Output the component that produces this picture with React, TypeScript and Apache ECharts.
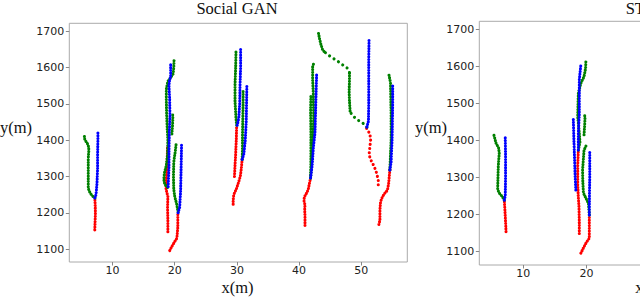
import React, { useEffect, useRef } from "react";
import * as echarts from "echarts";

type Traj = [number, number][];

// ---------- panel titles / axis ticks ----------
const panelTitles = ["Social GAN", "STGAT"];
const xTicks = [10, 20, 30, 40, 50];
const xTicksRightVisible = [10, 20];
const yTicks = [1100, 1200, 1300, 1400, 1500, 1600, 1700];

// ---------- left panel (Social GAN) ----------
const leftObserved: Traj[] = [
  [[7.15, 1153], [7.2, 1175], [7.25, 1200], [7.2, 1225], [7.15, 1241]],
  [[18.9, 1148], [18.9, 1180], [18.85, 1215], [18.9, 1245], [18.6, 1265], [18.65, 1290], [18.75, 1320], [18.8, 1350], [18.85, 1383]],
  [[19.2, 1096], [19.5, 1106], [19.9, 1118], [20.35, 1130], [20.5, 1160], [20.5, 1200]],
  [[29.95, 1434], [29.9, 1400], [29.8, 1360], [29.7, 1330], [29.6, 1296]],
  [[30.85, 1347], [30.7, 1320], [30.55, 1300], [30.2, 1280], [29.9, 1265], [29.5, 1250], [29.4, 1235], [29.4, 1218]],
  [[41.85, 1296], [41.63, 1278], [41.47, 1264], [41.2, 1254], [40.9, 1245], [40.8, 1238], [40.8, 1231], [40.95, 1222], [40.9, 1208], [40.95, 1190], [40.95, 1158]],
  [[54.6, 1318], [54.5, 1300], [54.4, 1280], [54.2, 1262], [53.8, 1254], [53.4, 1244], [53.1, 1230], [53.0, 1208], [53.0, 1180], [52.75, 1162]],
];
const leftObservedSparse: Traj[] = [
  [[50.86, 1432], [51.39, 1417], [51.5, 1400], [51.39, 1382], [51.28, 1364], [51.39, 1350], [51.83, 1336], [52.2, 1322], [52.47, 1309], [52.73, 1290], [52.73, 1267]],
];
const leftTruth: Traj[] = [
  [[7.15, 1241], [7.35, 1250], [7.5, 1280], [7.6, 1320], [7.6, 1360], [7.65, 1400], [7.65, 1420]],
  [[18.95, 1272], [19.08, 1327], [19.08, 1373], [19.13, 1419], [19.24, 1464], [19.19, 1510], [19.08, 1547], [19.13, 1561], [19.35, 1574], [19.35, 1613]],
  [[20.55, 1200], [20.8, 1215], [20.95, 1260], [21.0, 1300], [21.05, 1340], [21.1, 1388]],
  [[30.05, 1441], [30.3, 1460], [30.45, 1500], [30.5, 1550], [30.6, 1600], [30.6, 1655]],
  [[30.85, 1347], [31.1, 1360], [31.35, 1400], [31.5, 1450], [31.55, 1500], [31.6, 1549]],
  [[41.85, 1296], [42.1, 1330], [42.3, 1380], [42.55, 1419], [42.7, 1510], [42.82, 1582]],
  [[50.9, 1436], [51.15, 1452], [51.2, 1500], [51.2, 1560], [51.2, 1620], [51.25, 1680]],
  [[54.6, 1318], [54.8, 1340], [54.95, 1400], [55.0, 1450], [55.05, 1500], [55.05, 1549]],
];
const leftPredicted: Traj[] = [
  [[7.18, 1241], [6.9, 1244], [6.4, 1254], [6.1, 1267], [6.1, 1304], [6.1, 1350], [6.2, 1373], [6.1, 1386], [5.85, 1394], [5.55, 1400], [5.45, 1414]],
  [[18.85, 1270], [18.4, 1278], [18.25, 1292], [18.35, 1310], [18.65, 1330], [18.85, 1360], [18.9, 1400], [18.8, 1430], [18.7, 1470], [18.65, 1510], [18.65, 1540], [18.9, 1562], [19.35, 1572], [19.75, 1582], [19.85, 1600], [19.9, 1621]],
  [[20.55, 1202], [20.3, 1225], [20.0, 1245], [19.85, 1265], [19.8, 1300], [19.85, 1340], [20.1, 1370], [20.25, 1392]],
  [[19.55, 1417], [19.65, 1440], [19.7, 1460], [19.65, 1476]],
  [[29.96, 1441], [29.85, 1460], [29.7, 1506], [29.7, 1552], [29.8, 1598], [29.85, 1643]],
  [[30.85, 1347], [30.9, 1380], [30.9, 1415], [30.95, 1460], [31.0, 1500], [31.0, 1540]],
  [[41.85, 1296], [41.9, 1340], [41.9, 1380], [41.9, 1430], [41.85, 1480], [41.9, 1524]],
  [[41.85, 1296], [42.05, 1340], [42.2, 1400], [42.35, 1460], [42.28, 1529], [42.18, 1565], [42.18, 1602], [42.39, 1613]],
  [[48.2, 1480], [48.1, 1507], [48.05, 1535], [48.1, 1563], [48.1, 1586]],
  [[44.0, 1644], [43.75, 1650], [43.5, 1664], [43.3, 1678], [43.1, 1696]],
  [[54.6, 1318], [54.8, 1400], [54.8, 1470], [54.75, 1512], [54.7, 1558], [54.4, 1584]],
];
const leftPredictedSparse: Traj[] = [
  [[50.9, 1436], [50.6, 1443], [50.1, 1448], [49.3, 1457], [48.5, 1469], [48.2, 1480]],
  [[48.1, 1586], [47.85, 1597], [47.1, 1606], [46.3, 1616], [45.5, 1625], [44.7, 1634], [44.0, 1644]],
];

// ---------- right panel (STGAT), only its left part is in view ----------
const rightObserved: Traj[] = [
  [[7.27, 1154], [7.2, 1180], [7.1, 1210], [7.0, 1239]],
  [[18.85, 1149], [18.85, 1180], [18.8, 1220], [18.7, 1245], [18.6, 1280], [18.6, 1330], [18.7, 1374]],
  [[19.1, 1096], [19.5, 1110], [19.9, 1123], [20.43, 1136], [20.43, 1170], [20.43, 1199]],
];
const rightTruth: Traj[] = [
  [[7.0, 1239], [7.15, 1250], [7.2, 1300], [7.2, 1360], [7.15, 1409]],
  [[18.7, 1374], [18.7, 1419], [18.85, 1470], [18.85, 1509], [18.85, 1563], [19.1, 1604]],
  [[18.3, 1266], [18.2, 1300], [18.1, 1350], [18.0, 1400], [17.9, 1460]],
  [[20.43, 1199], [20.45, 1250], [20.5, 1300], [20.5, 1370]],
];
const rightPredicted: Traj[] = [
  [[7.0, 1239], [6.7, 1248], [6.2, 1258], [5.95, 1268], [6.0, 1300], [6.05, 1330], [6.2, 1365], [6.1, 1380], [5.7, 1392], [5.35, 1415]],
  [[18.7, 1374], [18.95, 1395], [18.85, 1419], [18.6, 1464], [18.65, 1500], [18.7, 1527], [19.1, 1554], [19.6, 1572], [19.85, 1595], [19.9, 1617]],
  [[19.6, 1415], [19.7, 1440], [19.75, 1460], [19.65, 1473]],
  [[20.43, 1199], [20.3, 1230], [19.9, 1244], [19.5, 1258], [19.4, 1290], [19.37, 1320], [19.5, 1350], [19.6, 1374], [20.05, 1390]],
];

const RED = "#ff0000";
const GREEN = "#008000";
const BLUE = "#0000ff";

function dotted(data: Traj, color: string, gap: number, idx: number) {
  return {
    type: "line",
    xAxisIndex: idx,
    yAxisIndex: idx,
    data,
    symbol: "none",
    showSymbol: false,
    silent: true,
    lineStyle: { color, width: 3.1, type: [0.01, gap], cap: "round", join: "round" },
  };
}

function axes(idx: number, yMin: number, yMax: number, xt: number[]) {
  const lab = { fontFamily: "DejaVu Sans", fontSize: 11, color: "#222", formatter: (v: number) => String(v) };
  return {
    x: {
      type: "value",
      gridIndex: idx,
      min: 3.05,
      max: 57.4,
      axisLine: { show: false },
      splitLine: { show: false },
      axisTick: { show: true, customValues: xt, length: 3.5, lineStyle: { color: "#888" } },
      axisLabel: { ...lab, customValues: xt, margin: 3 },
    },
    y: {
      type: "value",
      gridIndex: idx,
      min: yMin,
      max: yMax,
      axisLine: { show: false },
      splitLine: { show: false },
      axisTick: { show: true, customValues: yTicks, length: 3.5, lineStyle: { color: "#888" } },
      axisLabel: { ...lab, customValues: yTicks, margin: 5 },
    },
  };
}

export default function App() {
  const ref = useRef<HTMLDivElement>(null);
  useEffect(() => {
    document.body.style.margin = "0";
    const chart = echarts.init(ref.current!, undefined, { renderer: "svg" });
    const a0 = axes(0, 1064.5, 1721.5, xTicks);
    const a1 = axes(1, 1064, 1721, xTicksRightVisible);
    const serif = { fontFamily: "Liberation Serif", fontSize: 16.5, lineHeight: 14, fill: "#111" };
    const series: any[] = [];
    leftObserved.forEach((t) => series.push(dotted(t, RED, 2.7, 0)));
    leftObservedSparse.forEach((t) => series.push(dotted(t, RED, 4.2, 0)));
    leftPredicted.forEach((t) => series.push(dotted(t, GREEN, 2.7, 0)));
    leftPredictedSparse.forEach((t) => series.push(dotted(t, GREEN, 5.3, 0)));
    leftTruth.forEach((t) => series.push(dotted(t, BLUE, 2.7, 0)));
    rightObserved.forEach((t) => series.push(dotted(t, RED, 2.7, 1)));
    rightPredicted.forEach((t) => series.push(dotted(t, GREEN, 2.7, 1)));
    rightTruth.forEach((t) => series.push(dotted(t, BLUE, 2.7, 1)));
    chart.setOption({
      animation: false,
      backgroundColor: "#ffffff",
      grid: [
        { left: 69.3, top: 23.3, width: 338, height: 238.7, show: true, borderColor: "#aaaaaa", borderWidth: 1 },
        { left: 479.3, top: 21.3, width: 344, height: 243.7, show: true, borderColor: "#aaaaaa", borderWidth: 1 },
      ],
      xAxis: [a0.x, a1.x],
      yAxis: [a0.y, a1.y],
      series,
      graphic: [
        { type: "text", x: 237, y: 1, style: { ...serif, text: panelTitles[0], align: "center", verticalAlign: "top" } },
        { type: "text", x: 651.3, y: 1, style: { ...serif, text: panelTitles[1], align: "center", verticalAlign: "top" } },
        { type: "text", x: 0, y: 127, style: { ...serif, text: "y(m)", align: "left", verticalAlign: "middle" } },
        { type: "text", x: 415, y: 127, style: { ...serif, text: "y(m)", align: "left", verticalAlign: "middle" } },
        { type: "text", x: 237.5, y: 287, style: { ...serif, text: "x(m)", align: "center", verticalAlign: "middle" } },
        { type: "text", x: 651.3, y: 287, style: { ...serif, text: "x(m)", align: "center", verticalAlign: "middle" } },
      ],
    });
    return () => chart.dispose();
  }, []);
  return (
    <div style={{ position: "absolute", left: 0, top: 0, width: 640, height: 299, overflow: "hidden", background: "#fff" }}>
      <div ref={ref} style={{ position: "absolute", left: 0, top: 0, width: 830, height: 299 }} />
    </div>
  );
}
